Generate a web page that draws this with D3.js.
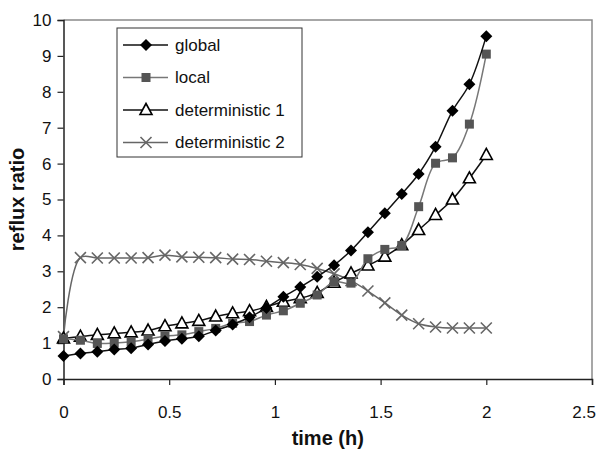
<!DOCTYPE html>
<html>
<head>
<meta charset="utf-8">
<script src="https://cdn.jsdelivr.net/npm/d3@7"></script>
<style>
  body { margin: 0; background: #fff; }
  svg { display: block; font-family: "Liberation Sans", Arial, sans-serif; }
</style>
</head>
<body>
<svg id="chart" width="596" height="450"></svg>
<script>
// time step between samples (h)
var step = 0.08;

var globalVals = [0.64, 0.71, 0.76, 0.82, 0.86, 0.96, 1.06, 1.12, 1.19, 1.35, 1.52, 1.72, 1.98,
    2.29, 2.56, 2.85, 3.17, 3.58, 4.09, 4.62, 5.15, 5.71, 6.47, 7.47, 8.21, 9.55];
var localVals = [1.12, 1.08, 0.99, 1.00, 1.04, 1.11, 1.20, 1.23, 1.32, 1.41, 1.55, 1.60, 1.78,
    1.90, 2.11, 2.34, 2.71, 2.67, 3.35, 3.61, 3.72, 4.80, 6.01, 6.16, 7.10, 9.05];
var det1Vals = [1.13, 1.18, 1.23, 1.27, 1.30, 1.35, 1.47, 1.55, 1.62, 1.74, 1.83, 1.89, 2.01,
    2.15, 2.25, 2.40, 2.68, 2.94, 3.16, 3.41, 3.73, 4.15, 4.57, 5.00, 5.59, 6.24];
var det2Vals = [1.18, 3.38, 3.37, 3.37, 3.37, 3.38, 3.45, 3.40, 3.39, 3.38, 3.34, 3.33, 3.28,
    3.24, 3.19, 3.08, 2.93, 2.74, 2.45, 2.12, 1.78, 1.54, 1.45, 1.42, 1.42, 1.42];

var seriesNames = ["global", "local", "deterministic 1", "deterministic 2"];
var xTicks = [0, 0.5, 1, 1.5, 2, 2.5];
var yTicks = [0, 1, 2, 3, 4, 5, 6, 7, 8, 9, 10];

(function () {
    var svg = d3.select("#chart");
    var pLeft = 63.5, pRight = 592, pTop = 20, pBottom = 379;

    var x = d3.scaleLinear().domain([0, 2.5]).range([pLeft, pRight]);
    var y = d3.scaleLinear().domain([0, 10]).range([pBottom, pTop]);

    // plot frame (top / right are grey)
    svg.append("path")
        .attr("d", "M" + pLeft + "," + pTop + "H" + pRight + "V" + pBottom)
        .attr("fill", "none").attr("stroke", "#8a8a8a").attr("stroke-width", 1.5);

    var yAxis = svg.append("g")
        .attr("transform", "translate(" + pLeft + ",0)")
        .call(d3.axisLeft(y).tickValues(yTicks).tickSize(6).tickPadding(6).tickFormat(d3.format("d")));
    var xAxis = svg.append("g")
        .attr("transform", "translate(0," + pBottom + ")")
        .call(d3.axisBottom(x).tickValues(xTicks).tickSize(6).tickPadding(21)
            .tickFormat(function (d) { return String(d); }));

    [yAxis, xAxis].forEach(function (ax) {
        ax.select(".domain").attr("stroke", "#222").attr("stroke-width", 1.5);
        ax.selectAll(".tick line").attr("stroke", "#222").attr("stroke-width", 1.2);
        ax.selectAll("text").attr("fill", "#111").style("font-size", "17px")
            .style("font-family", "'Liberation Sans', Arial, sans-serif");
    });
    // keep the last x label inside the picture
    xAxis.selectAll(".tick text").filter(function (d) { return d === 2.5; })
        .attr("text-anchor", "end").attr("x", 3.5);

    svg.append("text")
        .attr("x", (pLeft + pRight) / 2).attr("y", 445)
        .attr("text-anchor", "middle")
        .style("font-size", "20px").style("font-weight", "bold").attr("fill", "#111")
        .text("time (h)");

    svg.append("text")
        .attr("transform", "translate(24," + (pTop + pBottom) / 2 + ") rotate(-90)")
        .attr("text-anchor", "middle")
        .style("font-size", "20px").style("font-weight", "bold").attr("fill", "#111")
        .text("reflux ratio");

    var series = [
        { name: seriesNames[0], values: globalVals, line: "#111", marker: "diamond" },
        { name: seriesNames[1], values: localVals, line: "#777", marker: "square" },
        { name: seriesNames[2], values: det1Vals, line: "#111", marker: "triangle" },
        { name: seriesNames[3], values: det2Vals, line: "#666", marker: "cross" }
    ];

    function drawMarker(g, type) {
        if (type === "diamond") {
            g.append("path").attr("d", "M0,-6L6,0L0,6L-6,0Z").attr("fill", "#000");
        } else if (type === "square") {
            g.append("rect").attr("x", -4.5).attr("y", -4.5).attr("width", 9).attr("height", 9)
                .attr("fill", "#555");
        } else if (type === "triangle") {
            g.append("path").attr("d", "M0,-6.5L6,4.5L-6,4.5Z")
                .attr("fill", "#fff").attr("stroke", "#000").attr("stroke-width", 1.6);
        } else {
            g.append("path").attr("d", "M-5.5,-5.5L5.5,5.5M-5.5,5.5L5.5,-5.5")
                .attr("stroke", "#666").attr("stroke-width", 1.6).attr("fill", "none");
        }
    }

    var line = d3.line()
        .x(function (d, i) { return x(i * step); })
        .y(function (d) { return y(d); })
        .curve(d3.curveCatmullRom.alpha(0.5));

    // draw in reverse so global ends on top
    series.slice().reverse().forEach(function (s) {
        var g = svg.append("g");
        g.append("path").datum(s.values).attr("d", line)
            .attr("fill", "none").attr("stroke", s.line).attr("stroke-width", 1.5);
        s.values.forEach(function (v, i) {
            var m = g.append("g").attr("transform", "translate(" + x(i * step) + "," + y(v) + ")");
            drawMarker(m, s.marker);
        });
    });

    // legend
    var lg = svg.append("g");
    lg.append("rect").attr("x", 117).attr("y", 28).attr("width", 185).attr("height", 129)
        .attr("fill", "#fff").attr("stroke", "#333").attr("stroke-width", 1);
    series.forEach(function (s, i) {
        var cy = 45 + i * 32.5;
        lg.append("line").attr("x1", 123).attr("x2", 168).attr("y1", cy).attr("y2", cy)
            .attr("stroke", s.line).attr("stroke-width", 1.5);
        drawMarker(lg.append("g").attr("transform", "translate(146," + cy + ")"), s.marker);
        lg.append("text").attr("x", 175).attr("y", cy).attr("dy", "0.35em")
            .style("font-size", "17px").attr("fill", "#111").text(s.name);
    });
})();
</script>
</body>
</html>
